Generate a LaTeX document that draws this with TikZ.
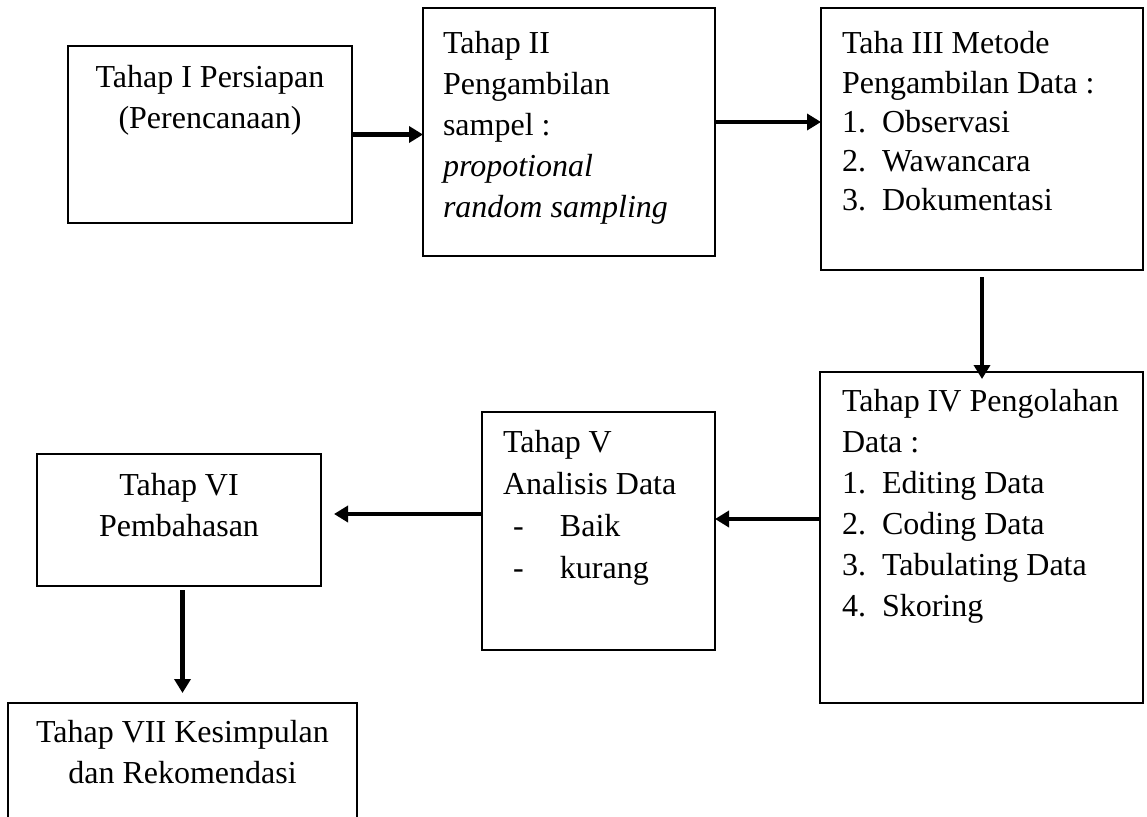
\documentclass[tikz,border=0pt]{standalone}
\usepackage{fontspec}
\setmainfont{Liberation Serif}
\usetikzlibrary{arrows.meta,calc}
\tikzset{
  box/.style={draw=black, line width=2pt, rectangle, inner sep=0pt, outer sep=0pt},
  txt/.style={font=\fontsize{32}{40}\selectfont, inner sep=0pt, outer sep=0pt},
  tl/.style={txt, anchor=base west},
  tc/.style={txt, anchor=base},
  arr/.style={line width=4.2pt, -{Triangle[length=14pt,width=16pt]}}
}
\newcommand{\itm}[2]{\makebox[40pt][l]{#1}#2}
\begin{document}
\begin{tikzpicture}[x=1pt,y=-1pt]
\useasboundingbox (0,0) rectangle (1147,816);
% boxes
\node[box, minimum width=284pt, minimum height=177pt] (b1) at (210,134.5) {};
\node[box, minimum width=292pt, minimum height=248pt] (b2) at (569,132) {};
\node[box, minimum width=322pt, minimum height=262pt] (b3) at (982,139) {};
\node[box, minimum width=323pt, minimum height=331pt] (b4) at (981.5,537.5) {};
\node[box, minimum width=233pt, minimum height=238pt] (b5) at (598.5,531) {};
\node[box, minimum width=284pt, minimum height=132pt] (b6) at (179,520) {};
\node[box, minimum width=349pt, minimum height=137pt] (b7) at (182.5,771.5) {};
% box 1 text
\node[tc] (t1a) at (210,87) {Tahap I Persiapan};
\node[tc] (t1b) at (210,128) {(Perencanaan)};
% box 2 text
\node[tl] (t2a) at (443,53) {Tahap II};
\node[tl] (t2b) at (443,94) {Pengambilan};
\node[tl] (t2c) at (443,135) {sampel :};
\node[tl] (t2d) at (443,176) {\itshape propotional};
\node[tl] (t2e) at (443,217) {\itshape random sampling};
% box 3 text
\node[tl] (t3a) at (842,54) {Taha III Metode};
\node[tl] (t3b) at (842,93) {Pengambilan Data :};
\node[tl] (t3c) at (842,132) {\itm{1.}{Observasi}};
\node[tl] (t3d) at (842,171) {\itm{2.}{Wawancara}};
\node[tl] (t3e) at (842,210) {\itm{3.}{Dokumentasi}};
% box 4 text
\node[tl] (t4a) at (842,411) {Tahap IV Pengolahan};
\node[tl] (t4b) at (842,452) {Data :};
\node[tl] (t4c) at (842,493) {\itm{1.}{Editing Data}};
\node[tl] (t4d) at (842,534) {\itm{2.}{Coding Data}};
\node[tl] (t4e) at (842,575) {\itm{3.}{Tabulating Data}};
\node[tl] (t4f) at (842,616) {\itm{4.}{Skoring}};
% box 5 text
\node[tl] (t5a) at (503,452) {Tahap V};
\node[tl] (t5b) at (503,494) {Analisis Data};
\node[tl] (t5c) at (513,536) {\makebox[47pt][l]{-}Baik};
\node[tl] (t5d) at (513,578) {\makebox[47pt][l]{-}kurang};
% box 6 text
\node[tc] (t6a) at (179,495) {Tahap VI};
\node[tc] (t6b) at (179,536) {Pembahasan};
% box 7 text
\node[tc] (t7a) at (182.5,742) {Tahap VII Kesimpulan};
\node[tc] (t7b) at (182.5,783) {dan Rekomendasi};
% connectors
\draw[arr] (b1.east) -- (b1.east -| b2.west);
\draw[arr] ([yshift=10pt]b2.east) -- ([yshift=10pt]b2.east -| b3.west);
\draw[arr] ([yshift=-7pt]b3.south) -- ([yshift=-7pt]b3.south |- b4.north);
\draw[arr] ([yshift=18.5pt]b4.west) -- ([yshift=18.5pt]b4.west -| b5.east);
\draw[arr] ([yshift=17pt]b5.west) -- ($([yshift=17pt]b5.west -| b6.east)+(13,0)$);
\draw[arr] ([yshift=-4pt]b6.south -| b7.north) -- ([yshift=10pt]b7.north);
\end{tikzpicture}
\end{document}
